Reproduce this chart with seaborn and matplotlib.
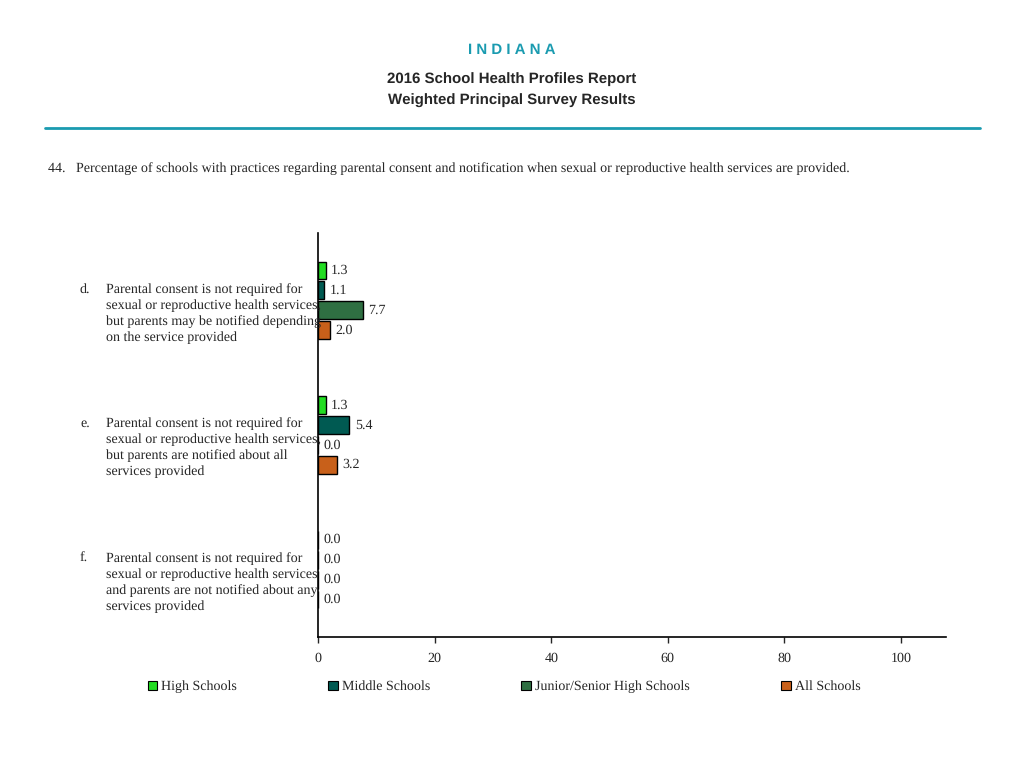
import numpy as np
import pandas as pd
import matplotlib
matplotlib.use('Agg')
import matplotlib.pyplot as plt
import matplotlib.transforms as mtransforms
import seaborn as sns

letters = ['d.', 'e.', 'f.']
practices = [
    'Parental consent is not required for\nsexual or reproductive health services,\nbut parents may be notified depending\non the service provided',
    'Parental consent is not required for\nsexual or reproductive health services,\nbut parents are notified about all\nservices provided',
    'Parental consent is not required for\nsexual or reproductive health services\nand parents are not notified about any\nservices provided',
]
school_types = ['High Schools', 'Middle Schools', 'Junior/Senior High Schools', 'All Schools']
high_schools = [1.3, 1.3, 0.0]
middle_schools = [1.1, 5.4, 0.0]
junior_senior = [7.7, 0.0, 0.0]
all_schools = [2.0, 3.2, 0.0]
colors = ['#22dd22', '#005a52', '#2f6f42', '#c8601a']

rows = []
for vals, st in zip([high_schools, middle_schools, junior_senior, all_schools], school_types):
    for i, v in enumerate(vals):
        rows.append({'item': letters[i], 'school': st, 'pct': v})
df = pd.DataFrame(rows)

sns.set_style('white')
plt.rcParams['font.family'] = ['Liberation Serif', 'DejaVu Serif']
plt.rcParams['text.hinting'] = 'no_hinting'
plt.rcParams['text.hinting_factor'] = 1

fig = plt.figure(figsize=(10.24, 7.68), dpi=100)
ax = fig.add_axes([318 / 1024, 1 - 637 / 768, (946 - 318) / 1024, (637 - 233) / 768])

sns.barplot(data=df, y='item', x='pct', hue='school', hue_order=school_types,
            order=letters, palette=colors, saturation=1, orient='h', width=0.59, gap=0.1,
            edgecolor='black', linewidth=1, legend=False, ax=ax)

for cont in ax.containers:
    ax.bar_label(cont, fmt='%.1f', padding=4, fontsize=10)

ax.set_xlim(0, 107.7)
ax.set_ylim(2.5, -0.5)
ax.set_xticks([0, 20, 40, 60, 80, 100])
ax.set_yticks([])
ax.set_xlabel('')
ax.set_ylabel('')
ax.tick_params(axis='x', length=4, width=1, pad=7, labelsize=10, direction='out', bottom=True)
for s in ['top', 'right']:
    ax.spines[s].set_visible(False)
for s in ['left', 'bottom']:
    ax.spines[s].set_color('black')
    ax.spines[s].set_linewidth(1.2)

trans = mtransforms.blended_transform_factory(fig.transFigure, ax.transData)
for i, (lt, txt) in enumerate(zip(letters, practices)):
    ax.text(106 / 1024, i + 0.096, txt, transform=trans, ha='left', va='center',
            fontsize=10, linespacing=1.34)
    ax.text(80 / 1024, i - 0.083, lt, transform=trans, ha='left', va='center', fontsize=10)

# header
fig.text(0.5, 1 - 50 / 768, 'I N D I A N A', ha='center', va='center', color='#1a9bb0',
         fontsize=10.5, fontweight='bold', family='Liberation Sans')
fig.text(0.5, 1 - 79 / 768, '2016 School Health Profiles Report', ha='center', va='center',
         fontsize=11, fontweight='bold', family='Liberation Sans')
fig.text(0.5, 1 - 101 / 768, 'Weighted Principal Survey Results', ha='center', va='center',
         fontsize=11, fontweight='bold', family='Liberation Sans')
fig.add_artist(plt.Line2D([45 / 1024, 980 / 1024], [1 - 128 / 768, 1 - 128 / 768],
                          color='#1a9bb0', linewidth=2))
fig.text(48 / 1024, 1 - 169 / 768,
         '44.   Percentage of schools with practices regarding parental consent and notification when sexual or reproductive health services are provided.',
         ha='left', va='center', fontsize=9.9)

# legend
handles = [plt.Rectangle((0, 0), 1, 1, facecolor=c, edgecolor='black', linewidth=0.8) for c in colors]
fig.legend(handles, school_types, loc='center left', bbox_to_anchor=(142 / 1024, 1 - 687 / 768),
           ncol=4, frameon=False, fontsize=10, handlelength=0.7, handleheight=0.7,
           handletextpad=0.3, columnspacing=6.55, borderaxespad=0)

fig.savefig('out.png', dpi=100)
